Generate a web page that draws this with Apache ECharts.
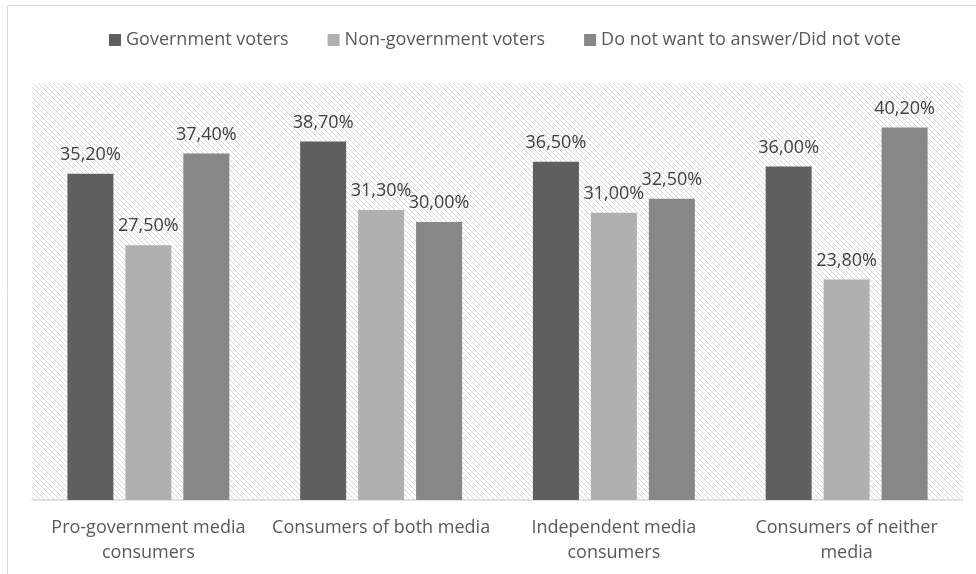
<!DOCTYPE html>
<html><head><meta charset="utf-8">
<script src="https://cdn.jsdelivr.net/npm/echarts@6/dist/echarts.min.js"></script>
<style>html,body{margin:0;padding:0;background:#fff}#c{width:976px;height:574px}</style>
</head><body><div id="c"></div>
<script>
const categories = ['Pro-government media\nconsumers', 'Consumers of both media', 'Independent media\nconsumers', 'Consumers of neither\nmedia'];
const seriesNames = ['Government voters', 'Non-government voters', 'Do not want to answer/Did not vote'];
const governmentVoters = [35.2, 38.7, 36.5, 36.0];
const nonGovernmentVoters = [27.5, 31.3, 31.0, 23.8];
const noAnswer = [37.4, 30.0, 32.5, 40.2];
const colors = ['#5f5f5f', '#b0b0b0', '#878787'];

const tile = document.createElement('canvas');
tile.width = 5; tile.height = 5;
const tc = tile.getContext('2d');
tc.fillStyle = '#ffffff'; tc.fillRect(0,0,5,5);
tc.strokeStyle = '#d6d6d6'; tc.lineWidth = 1;
tc.beginPath();
tc.moveTo(-1,-1); tc.lineTo(6,6);
tc.moveTo(-1,4); tc.lineTo(1,6);
tc.moveTo(4,-1); tc.lineTo(6,1);
tc.stroke();

const FONT = 'Open Sans';
const chart = echarts.init(document.getElementById('c'), null, {renderer:'canvas'});
const mk = (name, data, i) => ({
  name, type:'bar', data, barWidth: 46, barGap: '26%',
  itemStyle:{color: colors[i]},
  label:{show:true, position:'top', distance:10, color:'#404040', fontFamily:FONT, fontSize:18,
    formatter: p => p.value.toFixed(2).replace('.', ',') + '%'}
});
chart.setOption({
  animation:false,
  graphic:[{type:'rect', shape:{x:7.5, y:5.5, width:1000, height:600}, style:{fill:'none', stroke:'#d9d9d9', lineWidth:1}, z:-10}],
  legend:{top:26, left:104, itemWidth:12, itemHeight:12, itemGap:39, icon:'rect',
    textStyle:{color:'#595959', fontFamily:FONT, fontSize:18}, data: seriesNames},
  grid:{left:32, right:13, top:83, bottom:74, show:true, borderWidth:0,
    backgroundColor:{image: tile, repeat:'repeat'}},
  xAxis:{type:'category', data:categories,
    axisLine:{lineStyle:{color:'#d9d9d9', width:1.5}}, axisTick:{show:false},
    axisLabel:{color:'#595959', fontFamily:FONT, fontSize:18, lineHeight:25, margin:15, interval:0}},
  yAxis:{type:'value', min:0, max:45, interval:5, show:false, splitLine:{show:false}},
  series:[mk(seriesNames[0], governmentVoters, 0), mk(seriesNames[1], nonGovernmentVoters, 1), mk(seriesNames[2], noAnswer, 2)]
});
</script></body></html>
